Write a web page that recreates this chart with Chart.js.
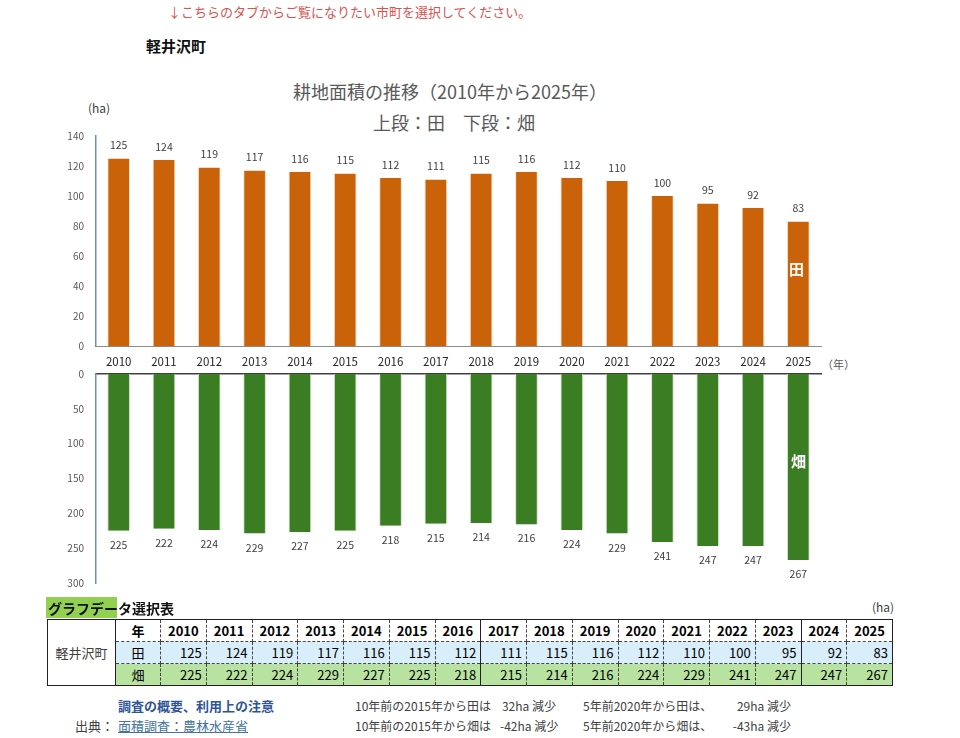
<!DOCTYPE html>
<html lang="ja">
<head>
<meta charset="utf-8">
<script src="https://cdn.jsdelivr.net/npm/chart.js@4"></script>
<style>
  body { margin: 0; width: 960px; height: 738px; position: relative; background: #fff;
         font-family: "Noto Sans CJK JP", "Noto Sans", sans-serif; overflow: hidden; }
  .abs { position: absolute; white-space: nowrap; }
  #dataTable { position: absolute; left: 47px; top: 619px; border-collapse: collapse;
               border: 1px solid #222; font-size: 13px; table-layout: fixed; }
  #dataTable td { border: 1px dashed #444; padding: 0 4px; height: 21px; line-height: 21px; }
  #dataTable tr.hd td { font-weight: bold; text-align: center; background: #fff; }
  #dataTable tr.ta td { background: #d9eefb; text-align: right; }
  #dataTable tr.ha td { background: #b8e2a0; text-align: right; }
  #dataTable td.kind { text-align: center !important; }
  #dataTable td.solidL { border-left: 1px solid #222; }
</style>
</head>
<body>
<div class="abs" style="left:168px;top:2px;font-size:13px;color:#d9534f;">↓こちらのタブからご覧になりたい市町を選択してください。</div>
<div class="abs" style="left:146px;top:35px;font-size:15px;font-weight:bold;color:#111;">軽井沢町</div>

<div class="abs" style="left:0;width:900px;top:78px;text-align:center;font-size:18px;color:#595959;">耕地面積の推移（2010年から2025年）</div>
<div class="abs" style="left:0;width:908px;top:109px;text-align:center;font-size:18px;color:#595959;">上段：田　下段：畑</div>
<div class="abs" style="left:88px;top:99px;font-size:12px;color:#404040;">(ha)</div>
<div class="abs" style="left:822px;top:356px;font-size:11px;color:#595959;">（年）</div>

<canvas id="taChart" class="abs" style="left:60px;top:118px;"></canvas>
<canvas id="haChart" class="abs" style="left:60px;top:356px;"></canvas>

<div class="abs" style="left:789px;top:258px;font-size:15px;font-weight:bold;color:#fff;">田</div>
<div class="abs" style="left:791px;top:450px;font-size:15px;font-weight:bold;color:#fff;">畑</div>

<div class="abs" style="left:46px;top:597px;width:71px;height:21px;background:#92d050;"></div>
<div class="abs" style="left:48px;top:598px;font-size:14px;font-weight:bold;color:#111;">グラフデータ選択表</div>
<div class="abs" style="left:872px;top:598px;font-size:12px;color:#404040;">(ha)</div>
<table id="dataTable"></table>

<div class="abs" style="left:118px;top:696px;font-size:13px;font-weight:bold;color:#2f5597;">調査の概要、利用上の注意</div>
<div class="abs" style="left:75px;top:716px;font-size:13px;color:#404040;">出典：</div>
<div class="abs" style="left:118px;top:716px;font-size:13px;color:#44749a;text-decoration:underline;">面積調査：農林水産省</div>
<div id="notes"></div>

<script>
// 耕地面積 (ha)
const years = ['2010', '2011', '2012', '2013', '2014', '2015', '2016', '2017',
               '2018', '2019', '2020', '2021', '2022', '2023', '2024', '2025'];
const paddy = [125, 124, 119, 117, 116, 115, 112, 111, 115, 116, 112, 110, 100, 95, 92, 83];   // 田
const upland = [225, 222, 224, 229, 227, 225, 218, 215, 214, 216, 224, 229, 241, 247, 247, 267]; // 畑
const paddyTicks = [0, 20, 40, 60, 80, 100, 120, 140];
const uplandTicks = [0, 50, 100, 150, 200, 250, 300];

const FONT = "'Noto Sans CJK JP', 'Noto Sans', sans-serif";

// value labels above (or below) each bar
const barLabels = {
  id: 'barLabels',
  afterDatasetsDraw(chart, args, opts) {
    const ctx = chart.ctx;
    const meta = chart.getDatasetMeta(0);
    ctx.save();
    ctx.font = '10.5px ' + FONT;
    ctx.fillStyle = '#404040';
    ctx.textAlign = 'center';
    ctx.textBaseline = 'middle';
    meta.data.forEach((bar, i) => {
      const v = chart.data.datasets[0].data[i];
      ctx.fillText(v, bar.x, bar.y + opts.offset);
    });
    ctx.restore();
  }
};

function fixWidth(w) { return axis => { axis.width = w; }; }
function fixHeight(h) { return axis => { axis.height = h; }; }

// 上段：田
const taCanvas = document.getElementById('taChart');
taCanvas.width = 770; taCanvas.height = 254;
new Chart(taCanvas, {
  type: 'bar',
  data: {
    labels: years,
    datasets: [{
      data: paddy,
      backgroundColor: '#c96209',
      borderColor: '#f3d9c0',
      borderWidth: { left: 1, right: 1, top: 0, bottom: 0 },
      categoryPercentage: 1,
      barPercentage: 0.5
    }]
  },
  options: {
    responsive: false,
    animation: false,
    layout: { padding: { top: 2, right: 9, left: 0, bottom: 0 } },
    plugins: { legend: { display: false }, tooltip: { enabled: false }, barLabels: { offset: -13 } },
    scales: {
      x: {
        grid: { display: false, drawTicks: false },
        border: { display: true, color: '#8c8c8c', width: 1 },
        ticks: { color: '#262626', font: { family: FONT, size: 11.5 }, padding: 9, maxRotation: 0 },
        afterFit: fixHeight(26)
      },
      y: {
        min: 0, max: 140,
        afterBuildTicks: axis => { axis.ticks = paddyTicks.map(v => ({ value: v })); },
        grid: { display: false, drawTicks: false },
        border: { display: true, color: '#6e8fae', width: 1.5 },
        ticks: { color: '#595959', font: { family: FONT, size: 10 }, padding: 12 },
        afterFit: fixWidth(36)
      }
    }
  },
  plugins: [barLabels]
});

// 下段：畑
const haCanvas = document.getElementById('haChart');
haCanvas.width = 770; haCanvas.height = 245;
new Chart(haCanvas, {
  type: 'bar',
  data: {
    labels: years,
    datasets: [{
      data: upland,
      backgroundColor: '#3b7d23',
      borderColor: '#cfe3c6',
      borderWidth: { left: 1, right: 1, top: 0, bottom: 0 },
      categoryPercentage: 1,
      barPercentage: 0.5
    }]
  },
  options: {
    responsive: false,
    animation: false,
    layout: { padding: { top: 2, right: 9, left: 0, bottom: 2 } },
    plugins: { legend: { display: false }, tooltip: { enabled: false }, barLabels: { offset: 14 } },
    scales: {
      x: {
        position: 'top',
        grid: { display: false, drawTicks: false },
        border: { display: true, color: '#404040', width: 1.5 },
        ticks: { display: false },
        afterFit: fixHeight(0)
      },
      y: {
        reverse: true,
        min: 0, max: 300,
        afterBuildTicks: axis => { axis.ticks = uplandTicks.map(v => ({ value: v })); },
        grid: { display: false, drawTicks: false },
        border: { display: true, color: '#6e8fae', width: 1.5 },
        ticks: { color: '#595959', font: { family: FONT, size: 10 }, padding: 12 },
        afterFit: fixWidth(36)
      }
    }
  },
  plugins: [barLabels]
});

// グラフデータ選択表
const solidBefore = ['2017', '2024'];
const table = document.getElementById('dataTable');
let html = '<colgroup><col style="width:68px"><col style="width:45px">' +
  years.map(() => '<col style="width:45.75px">').join('') + '</colgroup>';
html += '<tr class="hd"><td rowspan="3" style="font-weight:normal;color:#404040;border:1px solid #222;">軽井沢町</td><td class="solidL">年</td>' +
  years.map(y => `<td class="${solidBefore.includes(y) ? 'solidL' : ''}">${y}</td>`).join('') + '</tr>';
html += '<tr class="ta"><td class="kind solidL">田</td>' +
  paddy.map((v, i) => `<td class="${solidBefore.includes(years[i]) ? 'solidL' : ''}">${v}</td>`).join('') + '</tr>';
html += '<tr class="ha"><td class="kind solidL">畑</td>' +
  upland.map((v, i) => `<td class="${solidBefore.includes(years[i]) ? 'solidL' : ''}">${v}</td>`).join('') + '</tr>';
table.innerHTML = html;

// 増減メモ
const last = years.length - 1;
const i2015 = years.indexOf('2015'), i2020 = years.indexOf('2020');
const notes = [
  { x: 355, y: 697, t: '10年前の2015年から田は' }, { x: 500, y: 697, t: (paddy[i2015] - paddy[last]) + 'ha 減少', w: 56 },
  { x: 583, y: 697, t: '5年前2020年から田は、' }, { x: 715, y: 697, t: (paddy[i2020] - paddy[last]) + 'ha 減少', w: 76 },
  { x: 355, y: 717, t: '10年前の2015年から畑は' }, { x: 500, y: 717, t: (upland[i2015] - upland[last]) + 'ha 減少', w: 56 },
  { x: 583, y: 717, t: '5年前2020年から畑は、' }, { x: 715, y: 717, t: (upland[i2020] - upland[last]) + 'ha 減少', w: 76 }
];
document.getElementById('notes').innerHTML = notes.map(n =>
  `<div class="abs" style="left:${n.x}px;top:${n.y}px;font-size:12px;color:#404040;${n.w ? 'width:' + n.w + 'px;text-align:right;' : ''}">${n.t}</div>`
).join('');
</script>
</body>
</html>
